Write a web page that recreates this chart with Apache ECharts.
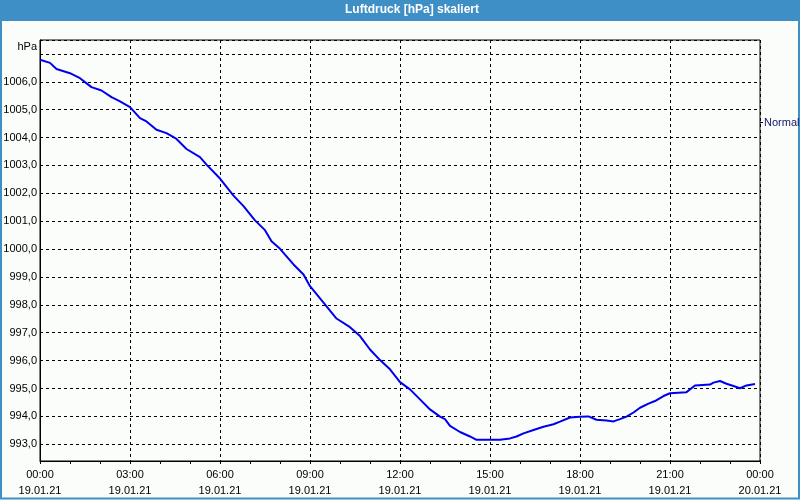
<!DOCTYPE html>
<html>
<head>
<meta charset="utf-8">
<script src="https://cdn.jsdelivr.net/npm/echarts@6/dist/echarts.min.js"></script>
<style>
  html, body { margin: 0; padding: 0; background: #fbfdfb; }
  #chart { width: 800px; height: 500px; }
</style>
</head>
<body>
<div id="chart"></div>
<script>
// Time of each reading, minutes after 19.01.21 00:00
const minutes = [0,20,33,60,80,90,103,123,143,160,180,200,213,233,253,273,293,320,333,360,
  387,407,430,450,463,480,507,527,540,567,593,620,640,660,680,700,720,740,760,780,
  800,810,820,840,860,873,920,940,953,967,987,1007,1027,1040,1060,1080,1097,1113,1133,1147,
  1160,1173,1187,1200,1217,1230,1247,1260,1293,1310,1340,1347,1360,1373,1387,1400,1413,1430];
// Air pressure in hPa
const pressure = [1006.79,1006.68,1006.46,1006.31,1006.13,1005.99,1005.81,1005.69,1005.45,1005.30,
  1005.09,1004.70,1004.58,1004.28,1004.16,1003.95,1003.59,1003.30,1003.03,1002.53,
  1001.92,1001.54,1001.03,1000.68,1000.28,1000.01,999.45,999.09,998.67,998.08,
  997.51,997.20,996.88,996.40,996.02,995.69,995.23,994.97,994.61,994.25,
  993.99,993.90,993.66,993.44,993.28,993.16,993.16,993.21,993.28,993.39,
  993.51,993.63,993.72,993.81,993.96,993.99,994.00,993.88,993.85,993.82,
  993.90,993.99,994.14,994.31,994.46,994.55,994.73,994.83,994.87,995.11,
  995.14,995.21,995.27,995.17,995.09,995.01,995.11,995.16];
// X tick labels (every 3 hours)
const xTickLabels = ['00:00\n19.01.21','03:00\n19.01.21','06:00\n19.01.21','09:00\n19.01.21',
  '12:00\n19.01.21','15:00\n19.01.21','18:00\n19.01.21','21:00\n19.01.21','00:00\n20.01.21'];
const titleText = 'Luftdruck [hPa] skaliert';
const seriesName = 'Normal';
const unitName = 'hPa';

const FONT = '"Liberation Sans", Arial, sans-serif';
const chart = echarts.init(document.getElementById('chart'), null, { renderer: 'canvas' });

const lineData = minutes.map((m, i) => [m / 60, pressure[i]]);

chart.setOption({
  backgroundColor: '#fbfdfb',
  animation: false,
  graphic: [
    { type: 'rect', shape: { x: 0, y: 0, width: 800, height: 21 }, style: { fill: '#3d8fc6' }, silent: true, z: 0 },
    { type: 'rect', shape: { x: 1, y: 1, width: 798, height: 497.5 }, style: { fill: null, stroke: '#3d8fc6', lineWidth: 2 }, silent: true, z: 0 }
  ],
  title: {
    text: titleText,
    left: 345,
    top: 3,
    padding: 0,
    textStyle: { color: '#ffffff', fontSize: 12, fontWeight: 'bold', fontFamily: FONT, lineHeight: 14 }
  },
  legend: {
    data: [{ name: seriesName, icon: 'rect' }],
    left: 760,
    top: 117,
    padding: 0,
    itemWidth: 3,
    itemHeight: 1,
    itemStyle: { color: '#000000' },
    textStyle: { color: '#14146a', fontSize: 11, fontFamily: FONT, padding: [0, 0, 0, -4] }
  },
  grid: {
    left: 40, right: 40, top: 40, bottom: 39,
    show: true, borderColor: '#000', borderWidth: 1, backgroundColor: 'transparent',
    containLabel: false
  },
  xAxis: {
    type: 'value',
    min: 0, max: 24, interval: 3,
    axisLine: { show: true, lineStyle: { color: '#000', width: 1 } },
    axisTick: { show: true, length: 3, lineStyle: { color: '#000' } },
    minorTick: { show: true, splitNumber: 3, length: 3, lineStyle: { color: '#000' } },
    splitLine: { show: true, lineStyle: { color: '#000', type: [3, 3], width: 1 } },
    axisLabel: {
      show: true, margin: 6, color: '#000', fontSize: 11, fontFamily: FONT, lineHeight: 16,
      showMinLabel: true, showMaxLabel: true, hideOverlap: false,
      formatter: v => { const i = Math.round(v / 3); return xTickLabels[i] || ''; }
    }
  },
  yAxis: {
    type: 'value',
    min: 992.4, max: 1007.5,
    splitNumber: 15, minInterval: 1, maxInterval: 1,
    name: unitName,
    nameLocation: 'end',
    nameGap: -7,
    nameTextStyle: { color: '#000', fontSize: 11, fontFamily: FONT, align: 'right', verticalAlign: 'middle', padding: [0, 3, 0, 0] },
    axisLine: { show: true, lineStyle: { color: '#000', width: 1 } },
    axisTick: { show: false },
    splitLine: { show: true, lineStyle: { color: '#000', type: [3, 3], width: 1 } },
    axisLabel: {
      show: true, margin: 3, color: '#000', fontSize: 11, fontFamily: FONT,
      showMinLabel: true, showMaxLabel: true, hideOverlap: false,
      formatter: v => {
        if (Math.abs(v - Math.round(v)) > 1e-6 || v > 1006.5) return '';
        return v.toFixed(1).replace('.', ',');
      }
    }
  },
  series: [{
    name: seriesName,
    type: 'line',
    data: lineData,
    showSymbol: false,
    smooth: false,
    lineStyle: { color: '#0000ee', width: 2 },
    itemStyle: { color: '#0000ee' },
    z: 3
  }]
});
</script>
</body>
</html>
